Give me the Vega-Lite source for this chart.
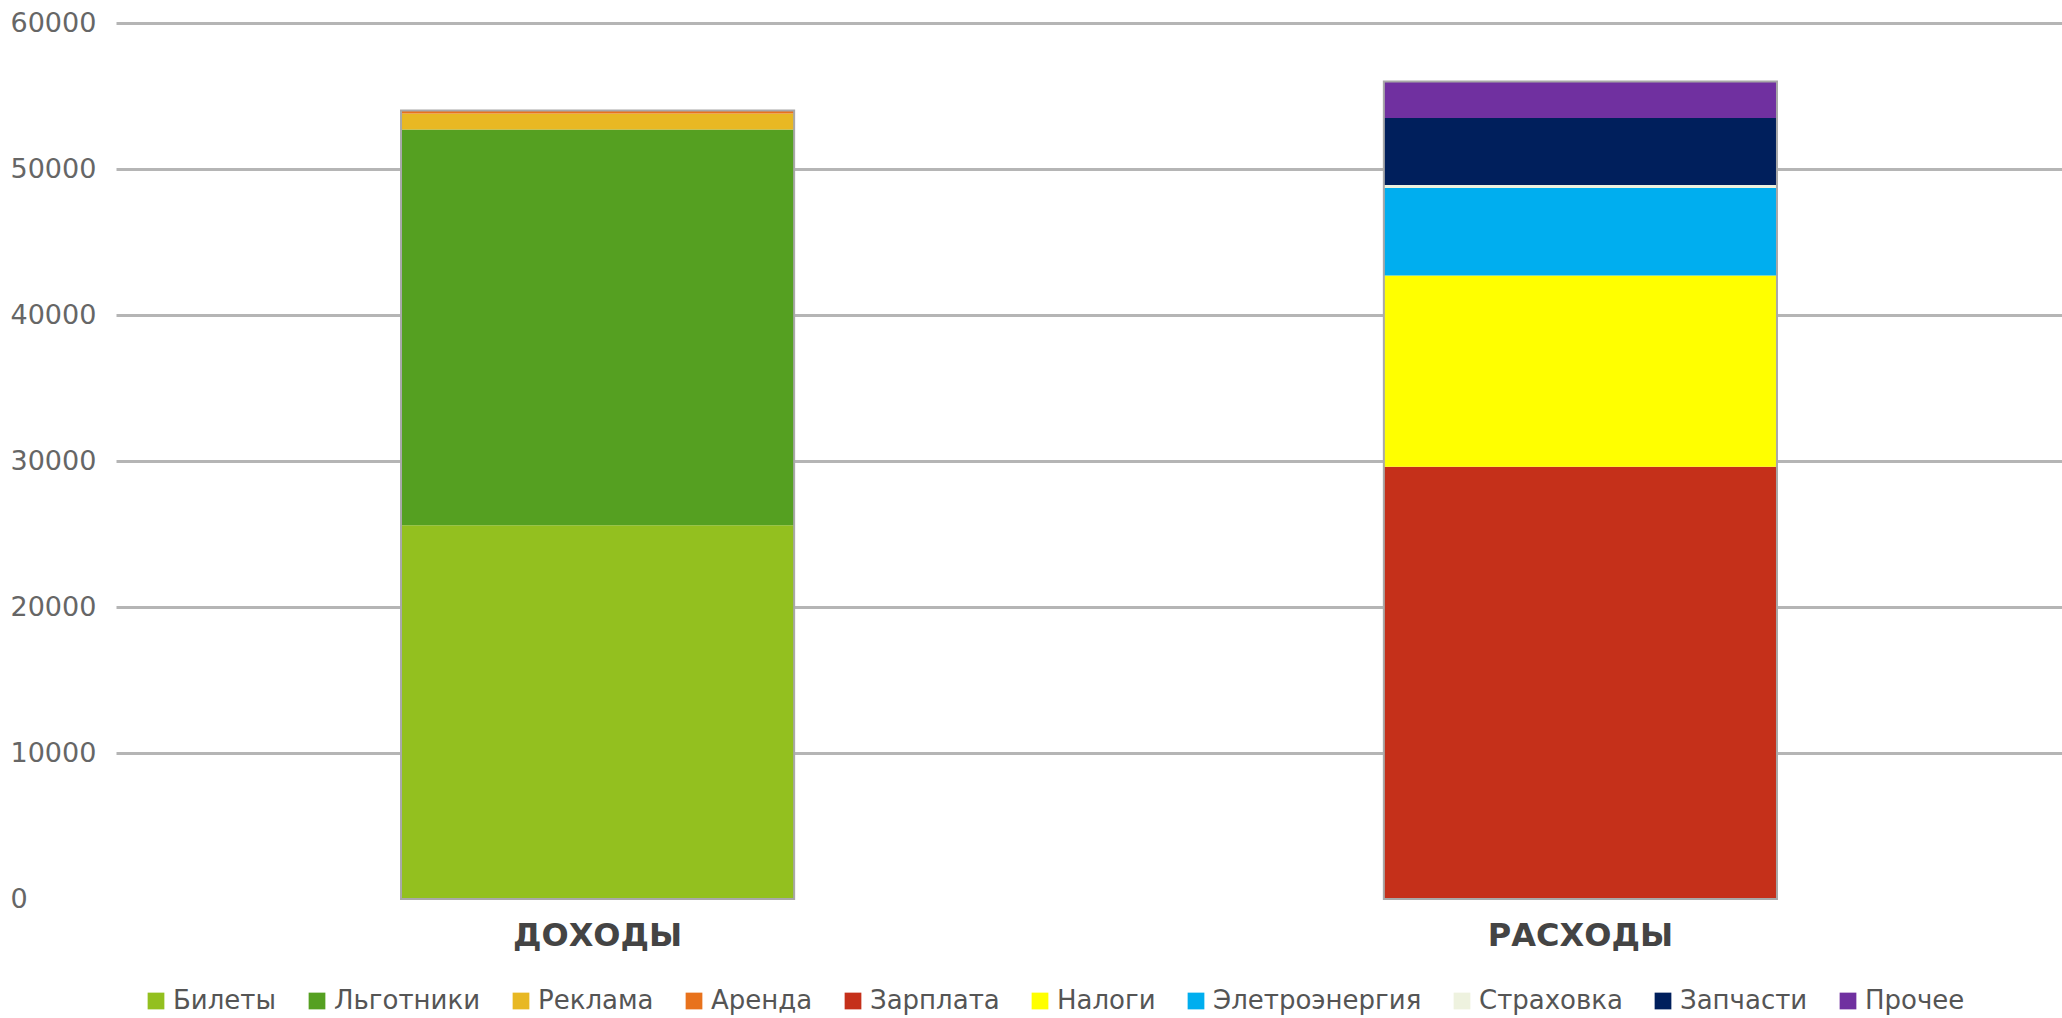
{
  "$schema": "https://vega.github.io/schema/vega-lite/v6.json",
  "autosize": {"type": "none"},
  "width": 1946,
  "height": 876,
  "padding": {"left": 116, "top": 23, "right": 0, "bottom": 119},
  "background": "white",
  "config": {"view": {"stroke": null}},
  "data": {
    "values": [
      {"group": "ДОХОДЫ", "item": "Билеты", "value": 25600, "ord": 1},
      {"group": "ДОХОДЫ", "item": "Льготники", "value": 27100, "ord": 2},
      {"group": "ДОХОДЫ", "item": "Реклама", "value": 1100, "ord": 3},
      {"group": "ДОХОДЫ", "item": "Аренда", "value": 200, "ord": 4},
      {"group": "РАСХОДЫ", "item": "Зарплата", "value": 29600, "ord": 5},
      {"group": "РАСХОДЫ", "item": "Налоги", "value": 13100, "ord": 6},
      {"group": "РАСХОДЫ", "item": "Элетроэнергия", "value": 6000, "ord": 7},
      {"group": "РАСХОДЫ", "item": "Страховка", "value": 200, "ord": 8},
      {"group": "РАСХОДЫ", "item": "Запчасти", "value": 4600, "ord": 9},
      {"group": "РАСХОДЫ", "item": "Прочее", "value": 2500, "ord": 10}
    ]
  },
  "encoding": {
    "x": {
      "field": "group",
      "type": "nominal",
      "sort": ["ДОХОДЫ", "РАСХОДЫ"],
      "scale": {"paddingInner": 0.6, "paddingOuter": 0.29},
      "axis": {
        "title": null,
        "domain": false,
        "ticks": false,
        "tickSize": 0,
        "labelAngle": 0,
        "labelFont": "DejaVu Sans",
        "labelFontWeight": "bold",
        "labelFontSize": 32,
        "labelColor": "#444444",
        "labelBaseline": "middle",
        "labelPadding": 36,
        "labelLimit": 600
      }
    }
  },
  "layer": [
    {
      "mark": {"type": "bar"},
      "encoding": {
        "y": {
          "field": "value",
          "type": "quantitative",
          "stack": "zero",
          "scale": {"domain": [0, 60000], "nice": false},
          "axis": {
            "title": null,
            "values": [0, 10000, 20000, 30000, 40000, 50000, 60000],
            "format": "d",
            "domain": false,
            "ticks": false,
            "tickSize": 0,
            "grid": true,
            "gridColor": {"condition": {"test": "datum.value === 0", "value": "transparent"}, "value": "#b5b5b5"},
            "gridWidth": 3,
            "labelFont": "DejaVu Sans",
            "labelFontSize": 27,
            "labelColor": "#666666",
            "labelAlign": "left",
            "labelBaseline": "middle",
            "labelPadding": 106
          }
        },
        "color": {
          "field": "item",
          "type": "nominal",
          "scale": {
            "domain": ["Билеты", "Льготники", "Реклама", "Аренда", "Зарплата", "Налоги", "Элетроэнергия", "Страховка", "Запчасти", "Прочее"],
            "range": ["#93C01F", "#55A021", "#E8B823", "#E8721C", "#C5301A", "#FFFF00", "#00AEEF", "#EEF2DF", "#001F5C", "#7030A0"]
          },
          "legend": {
            "title": null,
            "orient": "none",
            "legendX": 27,
            "legendY": 965,
            "direction": "horizontal",
            "symbolType": "square",
            "symbolSize": 280,
            "symbolStrokeWidth": 0,
            "labelFont": "DejaVu Sans",
            "labelFontSize": 26,
            "labelColor": "#555555",
            "labelOffset": 4,
            "columnPadding": 27,
            "labelLimit": 400
          }
        },
        "order": {"field": "ord", "type": "quantitative", "sort": "ascending"}
      }
    },
    {
      "mark": {"type": "bar", "fillOpacity": 0, "stroke": "#a8a8a8", "strokeWidth": 2},
      "encoding": {
        "y": {"aggregate": "sum", "field": "value", "type": "quantitative"}
      }
    }
  ]
}
